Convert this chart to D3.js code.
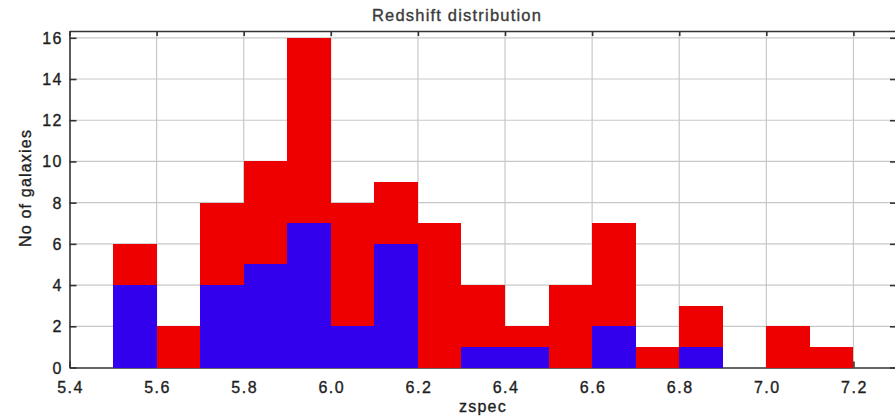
<!DOCTYPE html>
<html>
<head>
<meta charset="utf-8">
<script src="https://cdn.jsdelivr.net/npm/d3@7"></script>
<style>
  html, body { margin: 0; padding: 0; background: #fff; }
  svg { display: block; }
  text { font-family: "Liberation Sans", Arial, Helvetica, sans-serif; fill: #1e1e1e; stroke: #1e1e1e; stroke-width: 0.35px; }
</style>
</head>
<body>
<script>
// ---- data ----
const binStarts = [5.5, 5.6, 5.7, 5.8, 5.9, 6.0, 6.1, 6.2, 6.3, 6.4, 6.5, 6.6, 6.7, 6.8, 6.9, 7.0, 7.1];
const allCounts = [6, 2, 8, 10, 16, 8, 9, 7, 4, 2, 4, 7, 1, 3, 0, 2, 1];
const subCounts = [4, 0, 4, 5, 7, 2, 6, 0, 1, 1, 0, 2, 0, 1, 0, 0, 0];
const binWidth = 0.1;
const xTicks = [5.4, 5.6, 5.8, 6.0, 6.2, 6.4, 6.6, 6.8, 7.0, 7.2];
const yTicks = [0, 2, 4, 6, 8, 10, 12, 14, 16];
const titleText = "Redshift distribution";
const xLabel = "zspec";
const yLabel = "No of galaxies";

const W = 895, H = 418;
const L = 69.5, R = 897, T = 31, B = 367.5;

const svg = d3.select("body").append("svg").attr("width", W).attr("height", H);

const x = d3.scaleLinear().domain([5.4, 7.3]).range([L, R]);
const y = d3.scaleLinear().domain([0, 16.33]).range([B, T]);

// grid
const grid = svg.append("g");
grid.selectAll("line.gx").data(xTicks.filter(t => t > 5.4)).join("line")
  .attr("x1", d => x(d)).attr("x2", d => x(d)).attr("y1", T).attr("y2", B)
  .attr("stroke", "#c8c8c8").attr("stroke-width", 1.2);
grid.selectAll("line.gy").data(yTicks.filter(t => t > 0)).join("line")
  .attr("x1", L).attr("x2", R).attr("y1", d => y(d)).attr("y2", d => y(d))
  .attr("stroke", "#c8c8c8").attr("stroke-width", 1.2);

// frame & ticks via axes
const frame = svg.append("g");
frame.append("g").attr("transform", `translate(0,${B})`)
  .call(d3.axisTop(x).tickValues(xTicks).tickSize(6).tickSizeOuter(0).tickFormat(""));
frame.append("g").attr("transform", `translate(0,${T})`)
  .call(d3.axisBottom(x).tickValues(xTicks).tickSize(5).tickSizeOuter(0).tickFormat(""));
frame.append("g").attr("transform", `translate(${L},0)`)
  .call(d3.axisRight(y).tickValues(yTicks).tickSize(7).tickSizeOuter(0).tickFormat(""));
frame.append("g").attr("transform", `translate(${R},0)`)
  .call(d3.axisLeft(y).tickValues(yTicks).tickSize(7).tickSizeOuter(0).tickFormat(""));
frame.selectAll(".domain").attr("stroke", "#333").attr("stroke-width", 1.6);
frame.selectAll(".tick line").attr("stroke", "#333").attr("stroke-width", 1.6);

// bars
const bars = svg.append("g").attr("shape-rendering", "crispEdges");
bars.selectAll("rect.all").data(binStarts).join("rect")
  .attr("x", (d) => x(d))
  .attr("width", (d) => x(d + binWidth) - x(d))
  .attr("y", (d, i) => y(allCounts[i]))
  .attr("height", (d, i) => allCounts[i] > 0 ? y(0) - y(allCounts[i]) + 0.8 : 0)
  .attr("fill", "#ee0000");
bars.selectAll("rect.sub").data(binStarts).join("rect")
  .attr("x", (d) => x(d))
  .attr("width", (d) => x(d + binWidth) - x(d))
  .attr("y", (d, i) => y(subCounts[i]))
  .attr("height", (d, i) => subCounts[i] > 0 ? y(0) - y(subCounts[i]) + 0.8 : 0)
  .attr("fill", "#3300ee");

// tick labels
svg.append("g").selectAll("text").data(xTicks).join("text")
  .attr("x", d => x(d) + 1).attr("y", 393)
  .attr("text-anchor", "middle")
  .style("font-size", "16px").style("letter-spacing", "1.5px")
  .text(d => d3.format(".1f")(d));
svg.append("g").selectAll("text").data(yTicks).join("text")
  .attr("x", 63).attr("y", d => y(d) + 6)
  .attr("text-anchor", "end")
  .style("font-size", "16px").style("letter-spacing", "1.5px")
  .text(d => d);

// title & labels
svg.append("text").attr("x", 457).attr("y", 20.5).attr("text-anchor", "middle")
  .style("font-size", "16.5px").style("letter-spacing", "1.2px")
  .style("fill", "#3a3a3a").style("stroke", "#3a3a3a")
  .text(titleText);
svg.append("text").attr("x", 483).attr("y", 412).attr("text-anchor", "middle")
  .style("font-size", "16px").style("letter-spacing", "1.2px")
  .text(xLabel);
svg.append("text").attr("transform", "translate(31,188) rotate(-90)").attr("text-anchor", "middle")
  .style("font-size", "16px").style("letter-spacing", "1.2px")
  .text(yLabel);
</script>
</body>
</html>
